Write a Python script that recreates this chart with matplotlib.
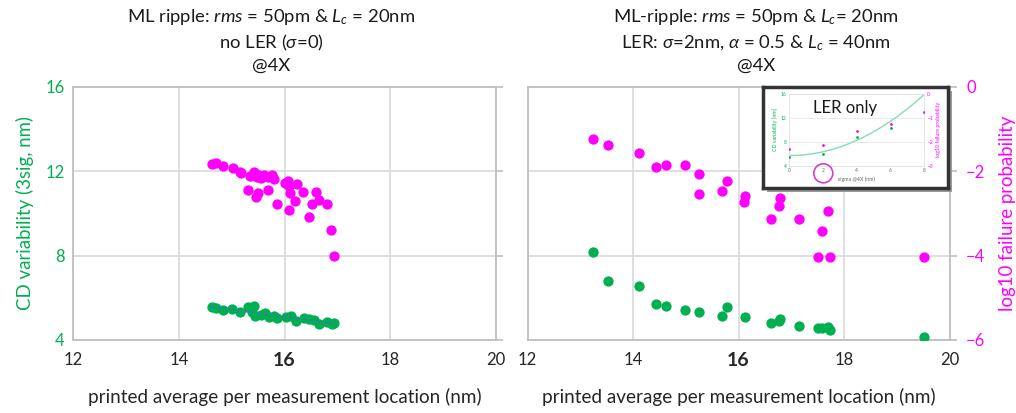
import numpy as np
import matplotlib
matplotlib.use("Agg")
import matplotlib.pyplot as plt
from matplotlib.patches import Rectangle, Ellipse

plt.rcParams["font.family"] = ["Lato", "DejaVu Sans"]
plt.rcParams["mathtext.fontset"] = "custom"
plt.rcParams["mathtext.rm"] = "Lato"
plt.rcParams["mathtext.it"] = "Lato:italic"

GREEN = "#00b050"
MAGENTA = "#ff00ff"
GRID = "#d9d9d9"
SPINE = "#bfbfbf"

# ---- left panel: ML ripple only ----
left_cd_x = [14.62, 14.71, 14.83, 15.00, 15.15, 15.30, 15.43, 15.38, 15.44, 15.55,
             15.64, 15.70, 15.80, 15.85, 16.02, 16.12, 16.21, 16.37, 16.46, 16.56,
             16.65, 16.81, 16.90, 16.94]
left_cd_y = [5.56, 5.54, 5.43, 5.46, 5.32, 5.56, 5.62, 5.35, 5.16, 5.19,
             5.27, 5.11, 5.14, 5.04, 5.11, 5.14, 4.92, 5.04, 4.99, 4.96,
             4.77, 4.83, 4.77, 4.80]

left_fp_x = [14.62, 14.71, 14.83, 15.02, 15.15, 15.18, 15.34, 15.43, 15.47, 15.51,
             15.55, 15.62, 15.68, 15.77, 15.80, 15.30, 15.49, 15.46, 15.68, 15.85,
             16.00, 16.06, 16.09, 16.10, 16.23, 16.19, 16.09, 16.35, 16.59, 16.66,
             16.52, 16.81, 16.46, 16.87, 16.93]
left_fp_y = [-1.83, -1.81, -1.87, -1.91, -2.01, -2.05, -2.10, -2.01, -2.13, -2.09,
             -2.17, -2.09, -2.13, -2.09, -2.19, -2.44, -2.51, -2.62, -2.44, -2.78,
             -2.28, -2.22, -2.36, -2.52, -2.30, -2.70, -2.92, -2.50, -2.50, -2.68,
             -2.78, -2.78, -3.09, -3.39, -4.00]

# ---- right panel: ML ripple + LER ----
right_cd_x = [13.24, 13.53, 14.11, 14.44, 14.63, 14.98, 15.25, 15.69, 15.78, 16.13,
              16.62, 16.77, 16.79, 17.15, 17.50, 17.58, 17.70, 17.73, 19.52]
right_cd_y = [8.17, 6.81, 6.55, 5.72, 5.59, 5.40, 5.34, 5.13, 5.56, 5.07,
              4.80, 4.88, 5.00, 4.64, 4.56, 4.58, 4.60, 4.48, 4.12]

right_fp_x = [13.24, 13.53, 14.11, 14.44, 14.63, 14.98, 15.25, 15.26, 15.78, 15.69,
              16.13, 16.11, 16.62, 16.79, 16.77, 17.15, 17.70, 17.58, 17.50, 17.73,
              19.52]
right_fp_y = [-1.23, -1.38, -1.56, -1.90, -1.86, -1.86, -2.07, -2.53, -2.23, -2.47,
              -2.58, -2.73, -3.12, -2.64, -2.82, -3.12, -2.95, -3.42, -4.04, -4.04,
              -4.04]

# ---- inset: LER only ----
inset_sigma = [0, 2, 4, 6]
inset_cd = [5.5, 6.0, 8.86, 10.3]
inset_fp_sigma = [0, 2, 4, 6, 8]
inset_fp = [-2.29, -2.12, -1.53, -1.26, -0.77]
inset_trend_coef = [0.16, 0.0, 5.7]   # quadratic trendline

x_ticks = [12, 14, 16, 18, 20]
cd_ticks = [4, 8, 12, 16]
fp_ticks = [0, -2, -4, -6]

fig = plt.figure(figsize=(10.16, 4.13), dpi=100)

ax_l = fig.add_axes([0.0719, 0.1768, 0.4163, 0.6126])
ax_r = fig.add_axes([0.5192, 0.1768, 0.4154, 0.6126])


def style_main(ax):
    ax.set_xlim(12, 20)
    ax.set_ylim(4, 16)
    ax.set_xticks(x_ticks)
    ax.set_yticks(cd_ticks)
    ax.grid(True, color=GRID, lw=1.2)
    ax.set_axisbelow(True)
    for s in ax.spines.values():
        s.set_color(SPINE)
        s.set_linewidth(1.3)
    ax.tick_params(axis="both", length=0)
    ax.tick_params(axis="x", pad=9, labelsize=12, labelcolor="#262626")
    ax.tick_params(axis="y", pad=6, labelsize=12, labelcolor=GREEN)
    labels = ax.set_xticklabels([str(t) for t in x_ticks])
    labels[2].set_fontweight("bold")
    labels[2].set_fontsize(14)
    ax.set_xlabel("printed average per measurement location (nm)",
                  fontsize=13.6, color="#262626", labelpad=13)


style_main(ax_l)
style_main(ax_r)
ax_r.set_yticklabels([])
ax_l.set_ylabel("CD variability (3sig, nm)", fontsize=13.4, color=GREEN, labelpad=8)

tw_l = ax_l.twinx()
tw_r = ax_r.twinx()
for tw in (tw_l, tw_r):
    tw.set_ylim(-6, 0)
    tw.set_yticks(fp_ticks)
    tw.tick_params(axis="y", length=5, width=1.2, color=SPINE, pad=7,
                   labelsize=12, labelcolor=MAGENTA)
    for s in tw.spines.values():
        s.set_visible(False)
tw_l.set_yticklabels([])
tw_r.set_ylabel("log10 failure probability", fontsize=13.4, color=MAGENTA, labelpad=10)

# left panel marks
ax_l.scatter(left_cd_x, left_cd_y, s=55, color=GREEN, zorder=3, linewidths=0)
fit = np.polyfit(left_cd_x, left_cd_y, 1)
fx = np.array([min(left_cd_x), max(left_cd_x)])
ax_l.plot(fx, np.polyval(fit, fx), ls=":", color="#4472c4", lw=1.8, zorder=4)
tw_l.scatter(left_fp_x, left_fp_y, s=55, color=MAGENTA, zorder=3, linewidths=0)

# right panel marks
ax_r.scatter(right_cd_x, right_cd_y, s=55, color=GREEN, zorder=3, linewidths=0)
tw_r.scatter(right_fp_x, right_fp_y, s=55, color=MAGENTA, zorder=3, linewidths=0)

# titles
title_kw = dict(ha="center", va="center", fontsize=13.3, color="#1a1a1a")
fig.text(0.267, 0.958, r"ML ripple: $\it{rms}$ = 50pm & $L_c$ = 20nm", **title_kw)
fig.text(0.267, 0.896, r"no LER ($\sigma$=0)", **title_kw)
fig.text(0.267, 0.840, "@4X", **title_kw)
fig.text(0.744, 0.958, r"ML-ripple: $\it{rms}$ = 50pm & $L_c$= 20nm", **title_kw)
fig.text(0.744, 0.896, r"LER: $\sigma$=2nm, $\alpha$ = 0.5 & $L_c$ = 40nm", **title_kw)
fig.text(0.744, 0.840, "@4X", **title_kw)

# inset box with shadow
box = [0.751, 0.544, 0.182, 0.246]
shadow = Rectangle((box[0] + 0.004, box[1] - 0.010), box[2], box[3],
                   transform=fig.transFigure, facecolor="#9a9a9a", edgecolor="none",
                   zorder=2)
fig.patches.append(shadow)
ax_box = fig.add_axes(box, zorder=3)
ax_box.set_xticks([])
ax_box.set_yticks([])
for s in ax_box.spines.values():
    s.set_color("#333333")
    s.set_linewidth(2.5)

ax_in = fig.add_axes([0.7769, 0.5988, 0.1329, 0.1736], zorder=4)
ax_in.set_xlim(0, 8)
ax_in.set_ylim(4, 16)
ax_in.set_xticks([0, 2, 4, 6, 8])
ax_in.set_yticks(cd_ticks)
ax_in.grid(True, axis="y", color="#e6e6e6", lw=0.6)
ax_in.set_axisbelow(True)
for s in ax_in.spines.values():
    s.set_color("#e0e0e0")
    s.set_linewidth(0.6)
ax_in.tick_params(length=0, pad=2, labelsize=3.5)
ax_in.tick_params(axis="x", labelcolor="#666666")
ax_in.tick_params(axis="y", labelcolor=GREEN)
ax_in.set_xlabel("sigma @4X (nm)", fontsize=3.8, color="#666666", labelpad=2)
ax_in.set_ylabel("CD variability [nm]", fontsize=3.8, color=GREEN, labelpad=2)
sx = np.linspace(0, 8, 100)
ax_in.plot(sx, np.polyval(inset_trend_coef, sx), color="#86dcb4", lw=1)
ax_in.scatter(inset_sigma, inset_cd, s=4, color=GREEN, zorder=3, linewidths=0)
ax_in.text(0.41, 0.80, "LER only", transform=ax_in.transAxes, ha="center",
           va="center", fontsize=12, color="#1a1a1a")

tw_in = ax_in.twinx()
tw_in.set_zorder(5)
tw_in.patch.set_visible(False)
tw_in.set_ylim(-3, 0)
tw_in.set_yticks([0, -1, -2, -3])
tw_in.tick_params(length=0, pad=2, labelsize=3.5, labelcolor=MAGENTA)
for s in tw_in.spines.values():
    s.set_visible(False)
tw_in.set_ylabel("log10 failure probability", fontsize=3.8, color=MAGENTA, labelpad=2)
tw_in.scatter(inset_fp_sigma, inset_fp, s=4, color=MAGENTA, zorder=3, linewidths=0)

# circle around the "2" tick of the inset
circ = Ellipse((823.3 / 1016, 1 - 173.3 / 413), 19 / 1016, 19 / 413,
               transform=fig.transFigure, facecolor="none", edgecolor="#d040d0",
               lw=1.2, zorder=6)
fig.patches.append(circ)

fig.savefig("out.png", dpi=100)
